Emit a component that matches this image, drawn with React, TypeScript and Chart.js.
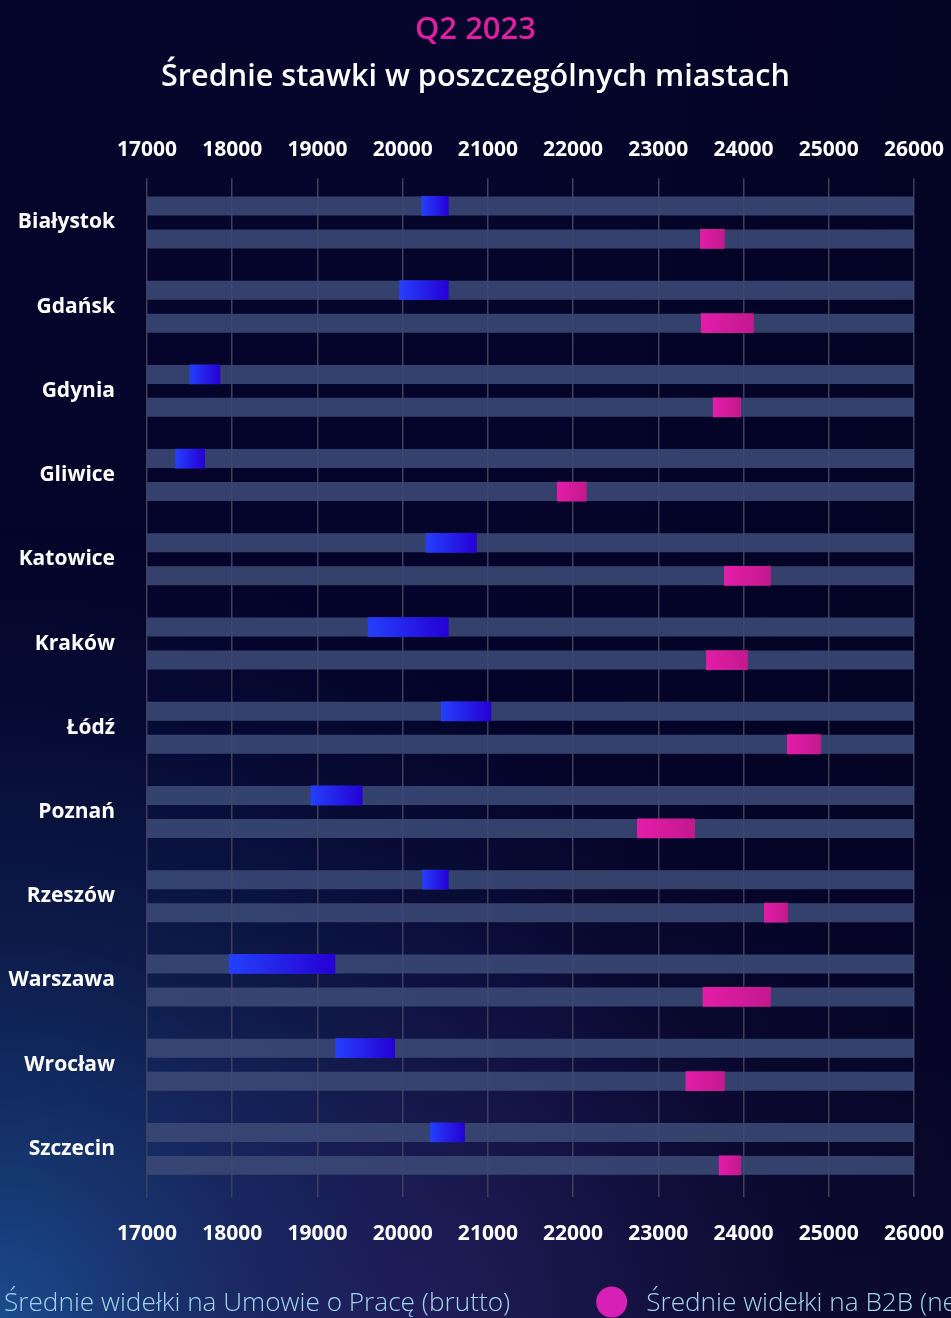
import { useEffect, useRef } from "react";
import { Chart, registerables } from "chart.js";

Chart.register(...registerables);

// ---------- data ----------
const CITIES = [
  "Białystok",
  "Gdańsk",
  "Gdynia",
  "Gliwice",
  "Katowice",
  "Kraków",
  "Łódź",
  "Poznań",
  "Rzeszów",
  "Warszawa",
  "Wrocław",
  "Szczecin",
];
const UOP_MIN = [20220, 19960, 17500, 17330, 20270, 19590, 20450, 18920, 20230, 17960, 19210, 20320];
const UOP_MAX = [20540, 20540, 17860, 17680, 20870, 20540, 21040, 19530, 20540, 19210, 19910, 20730];
const B2B_MIN = [23490, 23500, 23640, 21810, 23770, 23560, 24510, 22750, 24240, 23520, 23320, 23710];
const B2B_MAX = [23780, 24120, 23970, 22160, 24320, 24050, 24910, 23430, 24520, 24320, 23780, 23970];

const AXIS_MIN = 17000;
const AXIS_MAX = 26000;
const AXIS_STEP = 1000;

const TITLE = "Q2 2023";
const SUBTITLE = "Średnie stawki w poszczególnych miastach";
const LEGEND_UOP = "Średnie widełki na Umowie o Pracę (brutto)";
const LEGEND_B2B = "Średnie widełki na B2B (netto)";

// ---------- styles ----------
const FONT = '"Open Sans", "Noto Sans", sans-serif';
const UOP_GRAD = ["#2440fb", "#2500d4"];
const B2B_GRAD = ["#e41ca9", "#c2198d"];
const LEGEND_COLORS = ["#2a3cf5", "#d620b6"];
const TRACK = "rgba(58,72,116,0.9)";
const GRID = "rgba(66,64,88,1)";

function gradientFill(colors: string[]) {
  return (c: any) => {
    const chart = c.chart;
    if (c.type !== "data" || !chart.chartArea) return colors[0];
    const raw = c.raw as [number, number];
    const xs = chart.scales.x;
    const x0 = xs.getPixelForValue(raw[0]);
    const x1 = xs.getPixelForValue(raw[1]);
    const g = chart.ctx.createLinearGradient(x0, 0, x1, 0);
    g.addColorStop(0, colors[0]);
    g.addColorStop(1, colors[1]);
    return g;
  };
}

const bgPlugin = {
  id: "pageBackground",
  beforeDraw(chart: any) {
    const { ctx, width, height } = chart;
    ctx.save();
    const g = ctx.createLinearGradient(0, 0, 0, height);
    g.addColorStop(0, "#06052c");
    g.addColorStop(0.55, "#04042a");
    g.addColorStop(1, "#100d38");
    ctx.fillStyle = g;
    ctx.fillRect(0, 0, width, height);

    const r1 = ctx.createRadialGradient(0, height, 0, 0, height, 780);
    r1.addColorStop(0, "rgba(28,82,150,0.9)");
    r1.addColorStop(0.5, "rgba(18,50,105,0.45)");
    r1.addColorStop(1, "rgba(10,30,80,0)");
    ctx.fillStyle = r1;
    ctx.fillRect(0, 0, width, height);

    const r2 = ctx.createRadialGradient(430, height, 0, 430, height, 420);
    r2.addColorStop(0, "rgba(60,30,110,0.35)");
    r2.addColorStop(1, "rgba(60,30,110,0)");
    ctx.fillStyle = r2;
    ctx.fillRect(0, 0, width, height);

    const h = ctx.createLinearGradient(0, 0, width, 0);
    h.addColorStop(0.55, "rgba(0,0,20,0)");
    h.addColorStop(1, "rgba(0,0,20,0.35)");
    ctx.fillStyle = h;
    ctx.fillRect(0, 0, width, height);
    ctx.restore();
  },
};

const legendPlugin = {
  id: "lineLegend",
  afterDraw(chart: any) {
    const { ctx, width, height } = chart;
    const labels = chart.data.datasets.slice(0, 2).map((d: any) => d.label as string);
    ctx.save();
    ctx.font = `300 26.2px ${FONT}`;
    const D = 31;
    const G = 19;
    const IG = 86;
    const widths = labels.map((t: string) => ctx.measureText(t).width);
    const total = widths.reduce((s: number, w: number) => s + D + G + w, 0) + IG * (labels.length - 1);
    let x = width / 2 - total / 2;
    const cy = height - 16;
    labels.forEach((t: string, i: number) => {
      ctx.fillStyle = LEGEND_COLORS[i];
      ctx.beginPath();
      ctx.arc(x + D / 2, cy, D / 2, 0, Math.PI * 2);
      ctx.fill();
      ctx.fillStyle = "#a0d6ee";
      ctx.textAlign = "left";
      ctx.textBaseline = "middle";
      ctx.fillText(t, x + D + G, cy + 2);
      x += D + G + widths[i] + IG;
    });
    ctx.restore();
  },
};

export default function App() {
  const ref = useRef<HTMLCanvasElement | null>(null);

  useEffect(() => {
    document.body.style.margin = "0";
    document.body.style.overflow = "hidden";
    const canvas = ref.current;
    if (!canvas) return;

    const tickFont = { family: FONT, size: 21, weight: 700 as const };
    const fixX = (h: number) => (s: any) => {
      s.height = h;
      s.paddingLeft = 0;
      s.paddingRight = 0;
    };
    const chart = new Chart(canvas, {
      type: "bar",
      data: {
        labels: CITIES,
        datasets: [
          {
            label: LEGEND_UOP,
            data: CITIES.map((_, i) => [UOP_MIN[i], UOP_MAX[i]]) as any,
            stack: "uop",
            order: 1,
            backgroundColor: gradientFill(UOP_GRAD) as any,
            barPercentage: 0.6,
            categoryPercentage: 0.783,
          },
          {
            label: LEGEND_B2B,
            data: CITIES.map((_, i) => [B2B_MIN[i], B2B_MAX[i]]) as any,
            stack: "b2b",
            order: 1,
            backgroundColor: gradientFill(B2B_GRAD) as any,
            barPercentage: 0.6,
            categoryPercentage: 0.783,
          },
          {
            label: "track-uop",
            data: CITIES.map(() => [AXIS_MIN, AXIS_MAX]) as any,
            stack: "uop",
            order: 2,
            backgroundColor: TRACK,
            barPercentage: 0.576,
            categoryPercentage: 0.783,
          },
          {
            label: "track-b2b",
            data: CITIES.map(() => [AXIS_MIN, AXIS_MAX]) as any,
            stack: "b2b",
            order: 2,
            backgroundColor: TRACK,
            barPercentage: 0.576,
            categoryPercentage: 0.783,
          },
        ],
      },
      options: {
        indexAxis: "y",
        responsive: false,
        animation: false,
        events: [],
        layout: { padding: { left: 0, right: 0, top: 0, bottom: 73 } },
        plugins: {
          legend: { display: false },
          tooltip: { enabled: false },
          title: {
            display: true,
            text: TITLE,
            color: "#de1fa0",
            font: { family: FONT, size: 31, weight: 600 },
            padding: { top: 11.4, bottom: 0 },
          },
          subtitle: {
            display: true,
            text: SUBTITLE,
            color: "#ffffff",
            font: { family: FONT, size: 30.6, weight: 600 },
            padding: { top: 10, bottom: 43 },
          },
        },
        scales: {
          x: {
            type: "linear",
            position: "top",
            min: AXIS_MIN,
            max: AXIS_MAX,
            stacked: false,
            ticks: {
              stepSize: AXIS_STEP,
              color: "#ffffff",
              font: tickFont,
              padding: 16,
              maxRotation: 0,
              minRotation: 0,
              callback: (v: any) => String(v),
            },
            grid: { color: GRID, lineWidth: 1.5, tickLength: 2 },
            border: { display: false },
            afterFit: fixX(42),
          },
          x2: {
            type: "linear",
            axis: "x",
            position: "bottom",
            min: AXIS_MIN,
            max: AXIS_MAX,
            ticks: {
              stepSize: AXIS_STEP,
              color: "#ffffff",
              font: tickFont,
              padding: 24,
              maxRotation: 0,
              minRotation: 0,
              callback: (v: any) => String(v),
            },
            grid: { color: GRID, lineWidth: 1.5, tickLength: 6, drawOnChartArea: false },
            border: { display: false },
            afterFit: fixX(54),
          },
          y: {
            stacked: true,
            position: "left",
            grid: { display: false, drawTicks: false },
            border: { display: false },
            ticks: {
              color: "#ffffff",
              font: { family: FONT, size: 21, weight: 700 },
              padding: 32,
            },
            afterFit: (s: any) => {
              s.width = 147;
              s.paddingTop = 0;
              s.paddingBottom = 0;
            },
          },
          yRight: {
            type: "category",
            axis: "y",
            position: "right",
            grid: { display: false, drawTicks: false },
            border: { display: false },
            ticks: { display: false },
            afterFit: (s: any) => {
              s.width = 37;
              s.paddingTop = 0;
              s.paddingBottom = 0;
            },
          },
        },
      } as any,
      plugins: [bgPlugin, legendPlugin],
    });

    return () => chart.destroy();
  }, []);

  return (
    <div style={{ width: 951, height: 1318 }}>
      <canvas ref={ref} width={951} height={1318} style={{ display: "block" }} />
    </div>
  );
}
